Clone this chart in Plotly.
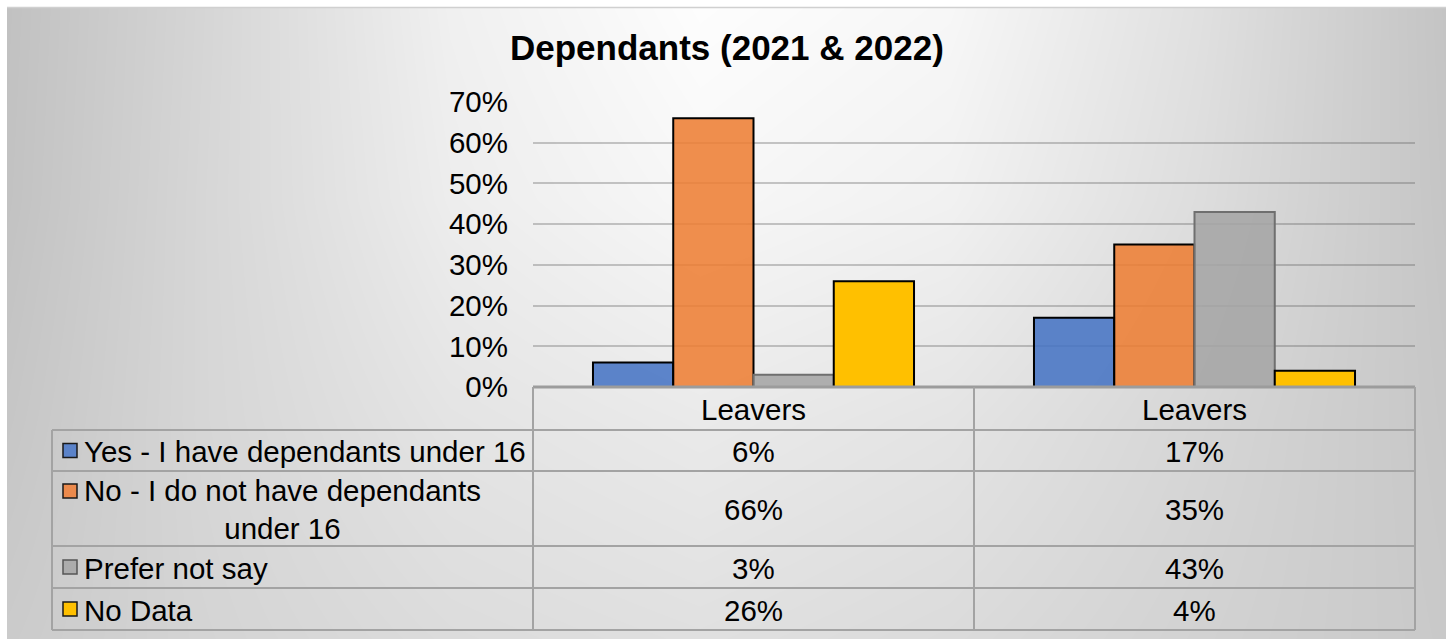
import plotly.graph_objects as go

# ---- data -------------------------------------------------------------
categories = ["Leavers", "Leavers"]          # 2021 column, 2022 column
series_names = [
    "Yes - I have dependants under 16",
    "No - I do not have dependants<br>under 16",
    "Prefer not say",
    "No Data",
]
yes_values = [6, 17]
no_values = [66, 35]
prefer_not_values = [3, 43]
no_data_values = [26, 4]
series_values = [yes_values, no_values, prefer_not_values, no_data_values]

y_ticks = [0, 10, 20, 30, 40, 50, 60, 70]
y_tick_labels = [f"{t}%" for t in y_ticks]

# ---- styling ----------------------------------------------------------
fills = ["rgba(68,114,196,0.86)", "rgba(237,125,49,0.86)",
         "rgba(165,165,165,0.88)", "rgb(255,192,0)"]
key_fills = ["#5b83c9", "#ec8a4c", "#acacac", "#ffc000"]
edges = ["#000000", "#000000", "#6f6f6f", "#000000"]
key_edges = ["#1a1a1a", "#1a1a1a", "#555555", "#1a1a1a"]

W, H = 1453, 639
FONT = "Liberation Sans, Arial, sans-serif"


def px(x):
    return x / W


def py(y):
    return 1 - y / H


# chart geometry in pixels
PL, PR = 533, 1415          # plot area left/right
PT, PB = 102, 387           # 70% line / 0% line
TL = 52                     # table left edge
row_edges = [387, 430, 471, 546, 588, 630]
col_edges = [PL, (PL + PR) / 2, PR]

fig = go.Figure()

# soft gray backdrop of the chart area
bg_x = [7, 200, 450, 700, 950, 1200, 1446]
bg_y = [7, 200, 420, 639]
bg_z = [
    [193, 213, 240, 253, 247, 224, 196],
    [194, 214, 237, 247, 241, 221, 197],
    [198, 214, 228, 234, 228, 214, 199],
    [203, 212, 220, 224, 219, 210, 201],
]
fig.add_trace(go.Heatmap(
    x=bg_x, y=bg_y, z=bg_z, zmin=0, zmax=255, zsmooth="best",
    colorscale=[[0, "rgb(0,0,0)"], [1, "rgb(255,255,255)"]],
    showscale=False, hoverinfo="skip", xaxis="x", yaxis="y",
))

# clustered bars
for name, vals, fc, ec in zip(series_names, series_values, fills, edges):
    fig.add_trace(go.Bar(
        x=[0, 1], y=vals, name=name.replace("<br>", " "),
        marker=dict(color=fc, line=dict(color=ec, width=2)),
        xaxis="x2", yaxis="y2", showlegend=False,
    ))

shapes = []
annotations = []

# title
annotations.append(dict(
    x=px(727), y=py(48), xref="paper", yref="paper",
    text="<b>Dependants (2021 & 2022)</b>", showarrow=False,
    font=dict(family=FONT, size=35, color="#000000"),
    xanchor="center", yanchor="middle",
))

# top edge of chart area
shapes.append(dict(type="line", xref="paper", yref="paper",
                   x0=px(7), x1=px(1446), y0=py(7.5), y1=py(7.5),
                   line=dict(color="#d0d0d0", width=1.5), layer="above"))

# data table grid
grid_col = "#a3a3a3"
shapes.append(dict(type="line", xref="paper", yref="paper",
                   x0=px(PL), x1=px(PR), y0=py(PB), y1=py(PB),
                   line=dict(color="#9c9c9c", width=3), layer="above"))
for yy in row_edges[1:]:
    shapes.append(dict(type="line", xref="paper", yref="paper",
                       x0=px(TL), x1=px(PR), y0=py(yy), y1=py(yy),
                       line=dict(color=grid_col, width=2), layer="above"))
for xx in col_edges:
    shapes.append(dict(type="line", xref="paper", yref="paper",
                       x0=px(xx), x1=px(xx), y0=py(row_edges[0]), y1=py(row_edges[-1]),
                       line=dict(color=grid_col, width=2), layer="above"))
shapes.append(dict(type="line", xref="paper", yref="paper",
                   x0=px(TL), x1=px(TL), y0=py(row_edges[1]), y1=py(row_edges[-1]),
                   line=dict(color=grid_col, width=2), layer="above"))

cell_font = dict(family=FONT, size=29.5, color="#000000")

# column headers
for i, cat in enumerate(categories):
    cx = (col_edges[i] + col_edges[i + 1]) / 2
    cy = (row_edges[0] + row_edges[1]) / 2
    annotations.append(dict(x=px(cx), y=py(cy + 1), xref="paper", yref="paper",
                            text=cat, showarrow=False, font=cell_font,
                            xanchor="center", yanchor="middle"))

# series rows: legend key, label and values
for r, (name, vals) in enumerate(zip(series_names, series_values)):
    top, bot = row_edges[r + 1], row_edges[r + 2]
    cy = (top + bot) / 2
    key_y = top + 20 if "<br>" in name else cy
    shapes.append(dict(type="rect", xref="paper", yref="paper",
                       x0=px(63), x1=px(77), y0=py(key_y - 7), y1=py(key_y + 7),
                       fillcolor=key_fills[r],
                       line=dict(color=key_edges[r], width=1.5),
                       layer="above"))
    annotations.append(dict(x=px(82), y=py(cy + 1), xref="paper", yref="paper",
                            text=name, showarrow=False, font=cell_font,
                            xanchor="left", yanchor="middle", align="center"))
    for i, v in enumerate(vals):
        cx = (col_edges[i] + col_edges[i + 1]) / 2
        annotations.append(dict(x=px(cx), y=py(cy + 1), xref="paper", yref="paper",
                                text=f"{v}%", showarrow=False, font=cell_font,
                                xanchor="center", yanchor="middle"))

fig.update_layout(
    template="none",
    width=W, height=H,
    autosize=False,
    margin=dict(l=0, r=0, t=0, b=0, pad=0),
    paper_bgcolor="#ffffff",
    plot_bgcolor="rgba(0,0,0,0)",
    showlegend=False,
    barmode="group",
    bargap=0.272,
    bargroupgap=0,
    shapes=shapes,
    annotations=annotations,
    xaxis=dict(domain=[px(7), px(1446)], range=[7, 1446], visible=False,
               fixedrange=True, automargin=False),
    yaxis=dict(domain=[0, py(7)], range=[639, 7], visible=False,
               fixedrange=True, automargin=False),
    xaxis2=dict(domain=[px(PL), px(PR)], range=[-0.5, 1.5], anchor="y2",
                showticklabels=False, showgrid=False, zeroline=False,
                showline=False, ticks="", automargin=False),
    yaxis2=dict(domain=[py(PB), py(PT)], range=[0, 70], anchor="x2",
                tickmode="array", tickvals=y_ticks, ticktext=y_tick_labels,
                showgrid=True, gridcolor="rgba(90,90,90,0.33)", gridwidth=2,
                zeroline=False, showline=False, ticks="",
                ticklabelstandoff=24, automargin=False,
                tickfont=dict(family=FONT, size=29.5, color="#000000")),
)

fig.write_html("out.html")
